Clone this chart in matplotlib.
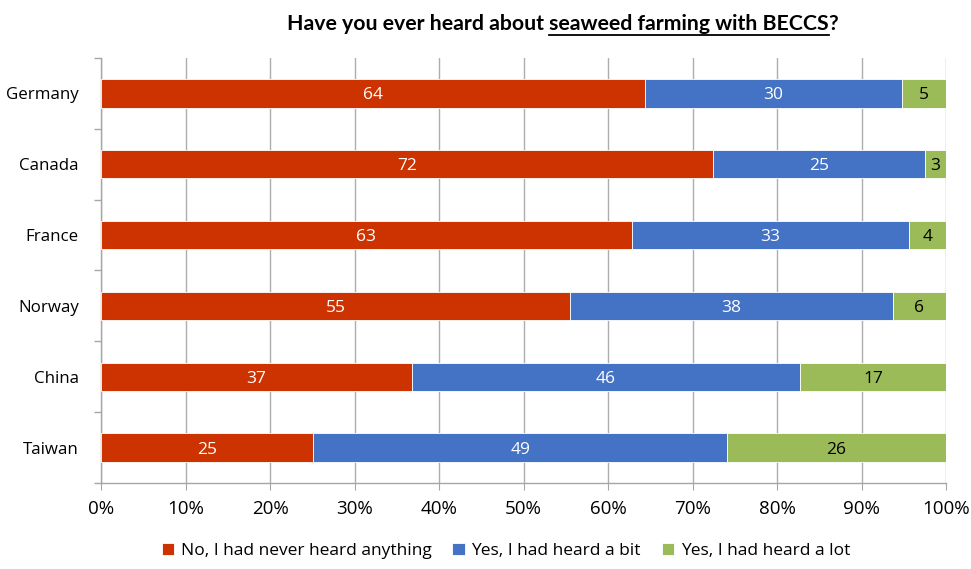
import matplotlib
matplotlib.use('Agg')
import matplotlib.pyplot as plt
import numpy as np

plt.rcParams['font.family'] = ['Open Sans', 'DejaVu Sans']

countries = ['Germany', 'Canada', 'France', 'Norway', 'China', 'Taiwan']
# bar widths (share of respondents, %)
never = [64.4, 72.4, 62.8, 55.5, 36.8, 25.1]
a_bit = [30.4, 25.1, 32.8, 38.2, 45.9, 49.0]
a_lot = [5.2, 2.5, 4.4, 6.3, 17.3, 25.9]
# printed data labels
never_lbl = [64, 72, 63, 55, 37, 25]
a_bit_lbl = [30, 25, 33, 38, 46, 49]
a_lot_lbl = [5, 3, 4, 6, 17, 26]
series_names = ['No, I had never heard anything', 'Yes, I had heard a bit',
                'Yes, I had heard a lot']
colors = ['#CC3300', '#4472C4', '#9BBB59']
text_colors = ['white', 'white', 'black']

fig = plt.figure(figsize=(9.71, 5.69), dpi=100)
ax = fig.add_axes([101 / 971, 1 - 483 / 569, 845 / 971, 425 / 569])

y = np.arange(len(countries))[::-1]
left = np.zeros(len(countries))
for vals, lbls, name, col, tcol in zip([never, a_bit, a_lot],
                                       [never_lbl, a_bit_lbl, a_lot_lbl],
                                       series_names, colors, text_colors):
    vals = np.array(vals)
    bars = ax.barh(y, vals, left=left, height=0.4, color=col, label=name,
                   edgecolor='white', linewidth=0.6, zorder=3)
    for b, v, l, lab in zip(bars, vals, left, lbls):
        ax.text(l + v / 2, b.get_y() + b.get_height() / 2, str(lab),
                ha='center', va='center_baseline', color=tcol, fontsize=12.5,
                zorder=4)
    left += vals

ax.set_xlim(0, 100)
ax.set_ylim(-0.5, len(countries) - 0.5)
ax.set_xticks(np.arange(0, 101, 10))
ax.set_xticklabels([f'{t}%' for t in range(0, 101, 10)], fontsize=13.5)
ax.set_yticks(y)
ax.set_yticklabels(countries, fontsize=12.2)
ax.set_yticks(np.arange(-0.5, len(countries), 1), minor=True)
ax.tick_params(axis='y', which='major', length=0, pad=16)
ax.tick_params(axis='y', which='minor', length=5, color='#A6A6A6', width=1)
ax.tick_params(axis='x', length=5, color='#A6A6A6', pad=7)
ax.grid(axis='x', color='#ADADAD', linewidth=1, zorder=0)
for s in ['top', 'right']:
    ax.spines[s].set_visible(False)
for s in ['left', 'bottom']:
    ax.spines[s].set_color('#A6A6A6')
    ax.spines[s].set_linewidth(1)

# title with underlined middle part
renderer = fig.canvas.get_renderer()
title_parts = ['Have you ever heard about ', 'seaweed farming with BECCS', '?']
x0 = 287 / 971
ty = 1 - 30 / 569
for i, part in enumerate(title_parts):
    t = fig.text(x0, ty, part, ha='left', va='baseline', fontsize=15.3,
                 fontweight='bold', family=['Lato', 'DejaVu Sans'])
    bb = t.get_window_extent(renderer)
    if i == 1:
        fig.add_artist(plt.Line2D([bb.x0 / 971, bb.x1 / 971],
                                  [ty - 5 / 569, ty - 5 / 569],
                                  color='black', linewidth=1.3))
    x0 = bb.x1 / 971

fig.legend(loc='center', bbox_to_anchor=(506 / 971, 1 - 551 / 569), ncol=3,
           frameon=False, fontsize=12.5, handlelength=0.7, handleheight=0.7,
           columnspacing=1.2, handletextpad=0.4)

fig.savefig('out.png', dpi=100)
